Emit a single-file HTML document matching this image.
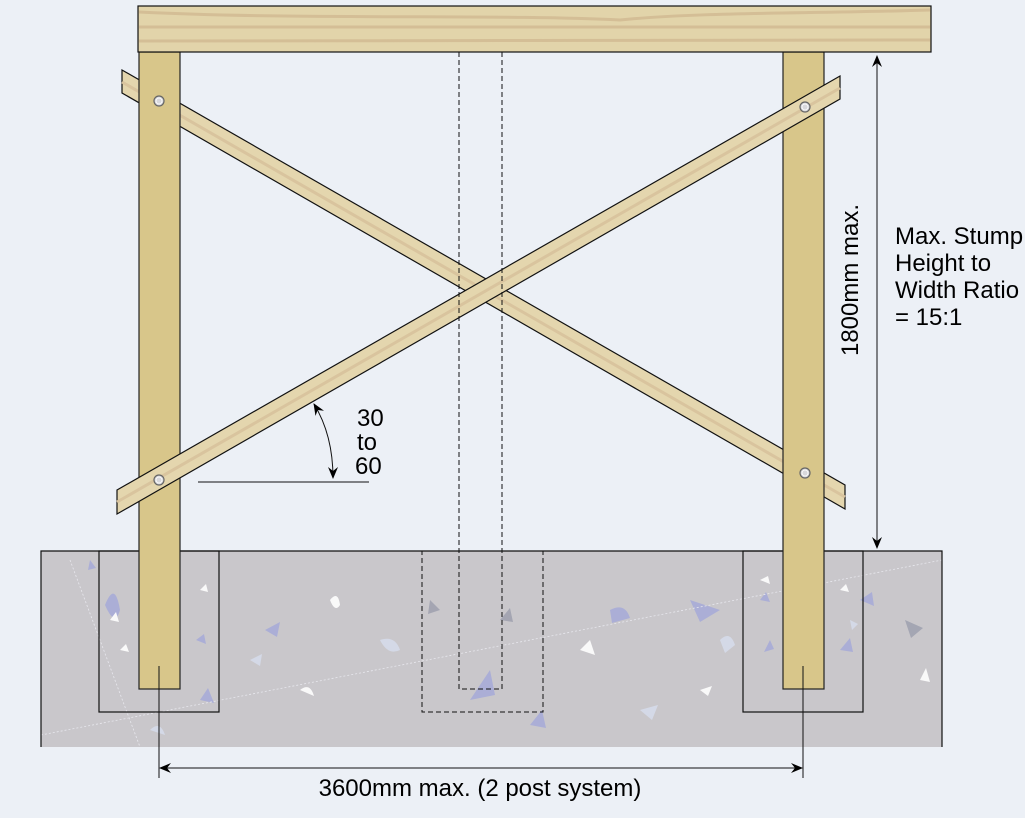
<!DOCTYPE html>
<html><head><style>html,body{margin:0;padding:0;background:#ECF0F6;}svg{display:block}text{font-family:"Liberation Sans",Arial,sans-serif;fill:#000}</style></head>
<body>
<svg width="1025" height="818" viewBox="0 0 1025 818" xmlns="http://www.w3.org/2000/svg">
<defs>
<marker id="ar" viewBox="0 0 12 10" refX="11" refY="5" markerWidth="12" markerHeight="10" orient="auto-start-reverse" markerUnits="userSpaceOnUse"><path d="M0,0 L12,5 L0,10 L4,5 z" fill="#000"/></marker>
</defs>
<rect width="1025" height="818" fill="#ECF0F6"/>
<rect x="41" y="551" width="901" height="196" fill="#C9C7CB"/>
<g fill="#A8ACD8" opacity="0.9">
<path d="M105,605 q10,-25 15,5 q-5,18 -15,-5z"/><path d="M265,630 l15,-8 l-3,15z"/><path d="M330,600 q8,-10 10,5 q-5,8 -10,-5z" fill="#fff"/>
<path d="M470,700 l20,-30 l5,25z"/><path d="M610,610 q15,-8 20,8 l-18,5z"/><path d="M690,600 l30,10 l-20,12z"/>
<path d="M380,640 q15,-5 20,10 q-12,6 -20,-10z" fill="#D6DCEB"/><path d="M580,650 l10,-10 l5,15z" fill="#fff"/>
<path d="M720,640 q10,-10 15,5 l-10,8z" fill="#D6DCEB"/><path d="M905,620 l18,8 l-12,10z" fill="#A0A2B0"/>
<path d="M860,600 l12,-8 l2,14z"/><path d="M300,690 q10,-8 14,6z" fill="#fff"/><path d="M530,725 l12,-15 l4,18z"/>
<path d="M200,700 l8,-12 l6,15z"/><path d="M640,710 l18,-5 l-6,15z" fill="#D6DCEB"/><path d="M920,680 l6,-12 l4,14z" fill="#fff"/>
<path d="M110,620 l6,-8 l3,10z" fill="#fff"/><path d="M760,580 l8,-4 l2,8z" fill="#fff"/><path d="M770,640 l-6,12 l10,-3z"/>
<path d="M840,650 l10,-12 l3,14z"/><path d="M150,730 q10,-10 15,5z" fill="#D6DCEB"/><path d="M430,600 l10,10 l-12,4z" fill="#A0A2B0"/>
<path d="M90,560 l6,8 l-8,2z"/><path d="M250,660 l12,-6 l-2,12z" fill="#D6DCEB"/>
<path d="M120,650 l6,-6 l3,8z" fill="#fff"/><path d="M196,640 l8,-6 l2,10z"/><path d="M200,590 l6,-6 l2,8z" fill="#fff"/>
<path d="M760,600 l6,-8 l4,10z"/><path d="M840,590 l6,-6 l3,8z" fill="#fff"/><path d="M850,620 l8,4 l-6,6z" fill="#D6DCEB"/>
<path d="M500,620 l10,-12 l3,14z" fill="#A0A2B0"/><path d="M700,690 l12,-4 l-4,10z" fill="#fff"/>
</g>
<path d="M41,735 L942,560 M70,560 L140,747" stroke="#E8E8EE" stroke-width="0.8" stroke-dasharray="2,2" fill="none"/>
<path d="M41,747 V551 H942 V747" fill="none" stroke="#111" stroke-width="1.2"/>
<rect x="99" y="551" width="120" height="161" fill="none" stroke="#111" stroke-width="1.2"/>
<rect x="743" y="551" width="120" height="161" fill="none" stroke="#111" stroke-width="1.2"/>
<rect x="422" y="551" width="121" height="161" fill="none" stroke="#111" stroke-width="1" stroke-dasharray="5,3"/>
<polygon points="122,70 845,485 845,509 122,93" fill="#E4D6AE" stroke="#111" stroke-width="1.2"/>
<line x1="122" y1="82" x2="845" y2="497" stroke="#D9C49E" stroke-width="3"/>
<rect x="139" y="52" width="41" height="637" fill="#D8C68A" stroke="#222" stroke-width="1.2"/>
<rect x="783" y="52" width="41" height="637" fill="#D8C68A" stroke="#222" stroke-width="1.2"/>
<polygon points="117,490 840,76 840,99 117,514" fill="#E4D6AE" stroke="#111" stroke-width="1.2"/>
<line x1="117" y1="502" x2="840" y2="88" stroke="#D9C49E" stroke-width="3"/>
<rect x="138" y="6" width="793" height="46" fill="#E2D4AA" stroke="#111" stroke-width="1.2"/>
<path d="M139,12 C300,20 500,14 620,20 C700,12 800,14 930,10" stroke="#D4BE96" stroke-width="3" fill="none"/>
<line x1="139" y1="27" x2="930" y2="27" stroke="#D4BE96" stroke-width="3"/>
<line x1="139" y1="41" x2="930" y2="40" stroke="#D4BE96" stroke-width="3"/>
<path d="M459,52 V689 H502 V52" fill="none" stroke="#111" stroke-width="1" stroke-dasharray="5,3"/>
<g fill="#D8D8DC" stroke="#666" stroke-width="1.2">
<circle cx="159" cy="101" r="5"/><circle cx="805" cy="107" r="5"/><circle cx="159" cy="480" r="5"/><circle cx="805" cy="473" r="5"/>
</g>
<g fill="none" stroke="#fff" stroke-width="0.8">
<circle cx="159" cy="101" r="3"/><circle cx="805" cy="107" r="3"/><circle cx="159" cy="480" r="3"/><circle cx="805" cy="473" r="3"/>
</g>
<line x1="198" y1="482" x2="369" y2="482" stroke="#111" stroke-width="1"/>
<path d="M314,404 Q333,435 333,478" fill="none" stroke="#111" stroke-width="1" marker-start="url(#ar)" marker-end="url(#ar)"/>
<text x="357" y="426" font-size="24">30</text><text x="357" y="450" font-size="24">to</text><text x="355" y="474" font-size="24">60</text>
<line x1="877" y1="56" x2="877" y2="548" stroke="#111" stroke-width="1" marker-start="url(#ar)" marker-end="url(#ar)"/>
<text transform="translate(858,280) rotate(-90)" text-anchor="middle" font-size="24">1800mm max.</text>
<text font-size="24"><tspan x="895" y="244">Max. Stump</tspan><tspan x="895" y="271">Height to</tspan><tspan x="895" y="298">Width Ratio</tspan><tspan x="895" y="325">= 15:1</tspan></text>
<line x1="159" y1="666" x2="159" y2="778" stroke="#111" stroke-width="1"/>
<line x1="803" y1="666" x2="803" y2="778" stroke="#111" stroke-width="1"/>
<line x1="160" y1="768" x2="802" y2="768" stroke="#111" stroke-width="1" marker-start="url(#ar)" marker-end="url(#ar)"/>
<text x="480" y="796" text-anchor="middle" font-size="24">3600mm max. (2 post system)</text>
</svg>
</body></html>
